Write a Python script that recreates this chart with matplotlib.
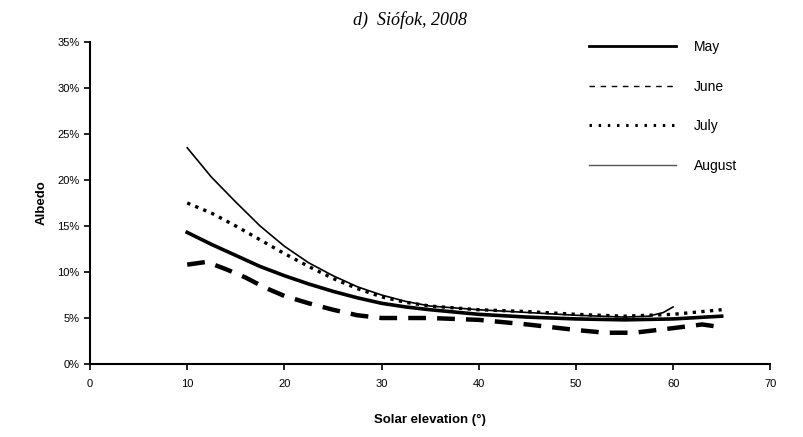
import matplotlib.pyplot as plt
from matplotlib.lines import Line2D
from matplotlib.ticker import PercentFormatter

# Albedo (%) vs solar elevation (deg)
elev_may = [10, 12.5, 15, 17.5, 20, 22.5, 25, 27.5, 30, 32.5, 35, 40, 45, 50, 55, 60, 65]
albedo_may = [14.3, 13.0, 11.8, 10.6, 9.6, 8.7, 7.9, 7.2, 6.6, 6.2, 5.9, 5.4, 5.1, 4.9, 4.8, 4.9, 5.2]

elev_june = [10, 12, 14, 16, 18, 20, 22.5, 25, 27.5, 30, 35, 40, 45, 50, 53, 56, 60, 63, 65]
albedo_june = [10.8, 11.1, 10.3, 9.4, 8.3, 7.4, 6.6, 5.9, 5.3, 5.0, 5.0, 4.8, 4.3, 3.7, 3.4, 3.4, 3.9, 4.3, 4.0]

elev_july = [10, 12.5, 15, 17.5, 20, 22.5, 25, 27.5, 30, 32.5, 35, 40, 45, 50, 55, 60, 65]
albedo_july = [17.5, 16.4, 15.0, 13.5, 12.0, 10.6, 9.3, 8.2, 7.3, 6.7, 6.3, 5.9, 5.7, 5.4, 5.2, 5.4, 5.9]

elev_aug = [10, 12.5, 15, 17.5, 20, 22.5, 25, 27.5, 30, 32.5, 35, 40, 45, 50, 55, 57.5, 59, 60]
albedo_aug = [23.5, 20.3, 17.6, 15.0, 12.8, 11.0, 9.6, 8.4, 7.5, 6.8, 6.3, 5.9, 5.6, 5.3, 5.1, 5.2, 5.6, 6.2]

months = ['May', 'June', 'July', 'August']

plt.rcParams['font.family'] = ['Liberation Sans', 'DejaVu Sans']

fig = plt.figure(figsize=(8.04, 4.37), dpi=100)
ax = fig.add_axes([0.112, 0.167, 0.846, 0.737])

ax.plot(elev_may, albedo_may, color='black', lw=2.6)
ax.plot(elev_june, albedo_june, color='black', lw=3.2, ls=(0, (4, 2.5)))
ax.plot(elev_july, albedo_july, color='black', lw=2.4, ls=(0, (1, 1.6)))
ax.plot(elev_aug, albedo_aug, color='black', lw=1.2)

ax.set_xlim(0, 70)
ax.set_ylim(0, 35)
ax.set_xticks(range(0, 71, 10))
ax.set_yticks(range(0, 36, 5))
ax.yaxis.set_major_formatter(PercentFormatter(decimals=0))
ax.spines['top'].set_visible(False)
ax.spines['right'].set_visible(False)
ax.spines['left'].set_linewidth(1.5)
ax.spines['bottom'].set_linewidth(1.5)
ax.tick_params(direction='out', length=4, width=1.2, labelsize=8)
ax.tick_params(axis='x', pad=7)

ax.set_xlabel('Solar elevation (°)', fontsize=9.5, fontweight='bold', labelpad=18)
ax.set_ylabel('Albedo', fontsize=9.5, fontweight='bold', labelpad=7)

fig.text(0.51, 0.955, 'd)  Siófok, 2008', ha='center', va='center',
         fontsize=13, style='italic', family='Liberation Serif')

handles = [
    Line2D([], [], color='black', lw=2),
    Line2D([], [], color='black', lw=1, ls=(0, (4, 4))),
    Line2D([], [], color='black', lw=2.2, ls=(0, (0.8, 2.2))),
    Line2D([], [], color='#555555', lw=1),
]
ax.legend(handles, months, loc='upper right', bbox_to_anchor=(0.97, 1.045),
          frameon=False, fontsize=10, handlelength=6.3, handletextpad=1.3,
          labelspacing=1.85)

fig.savefig('out.png', dpi=100)
